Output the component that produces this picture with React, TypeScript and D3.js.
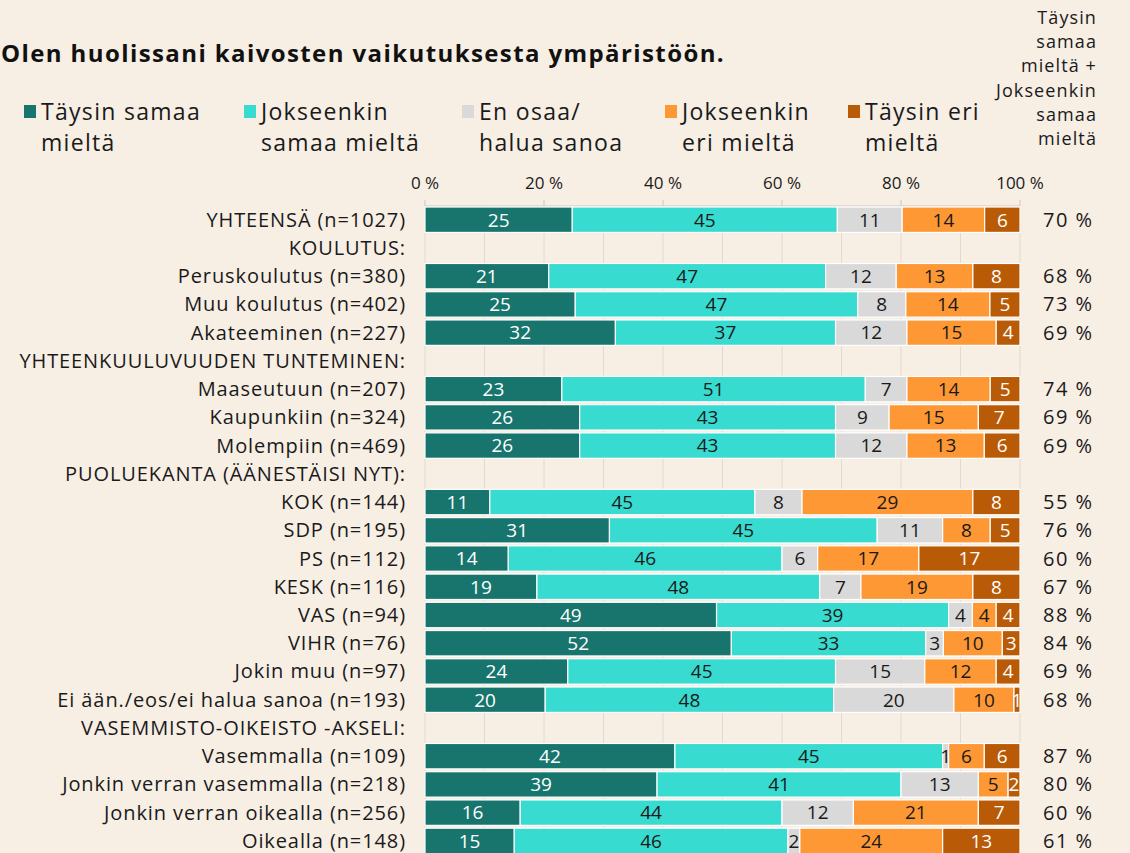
import React from 'react';
import * as d3 from 'd3';

// Kysymys: Olen huolissani kaivosten vaikutuksesta ympäristöön.
const labels = [
  'YHTEENSÄ (n=1027)',
  'KOULUTUS:',
  'Peruskoulutus (n=380)',
  'Muu koulutus (n=402)',
  'Akateeminen (n=227)',
  'YHTEENKUULUVUUDEN TUNTEMINEN:',
  'Maaseutuun (n=207)',
  'Kaupunkiin (n=324)',
  'Molempiin (n=469)',
  'PUOLUEKANTA (ÄÄNESTÄISI NYT):',
  'KOK (n=144)',
  'SDP (n=195)',
  'PS (n=112)',
  'KESK (n=116)',
  'VAS (n=94)',
  'VIHR (n=76)',
  'Jokin muu (n=97)',
  'Ei ään./eos/ei halua sanoa (n=193)',
  'VASEMMISTO-OIKEISTO -AKSELI:',
  'Vasemmalla (n=109)',
  'Jonkin verran vasemmalla (n=218)',
  'Jonkin verran oikealla (n=256)',
  'Oikealla (n=148)',
];

// null = otsikkorivi ilman palkkia
const taysinSamaa = [25, null, 21, 25, 32, null, 23, 26, 26, null, 11, 31, 14, 19, 49, 52, 24, 20, null, 42, 39, 16, 15];
const jokseenkinSamaa = [45, null, 47, 47, 37, null, 51, 43, 43, null, 45, 45, 46, 48, 39, 33, 45, 48, null, 45, 41, 44, 46];
const enOsaa = [11, null, 12, 8, 12, null, 7, 9, 12, null, 8, 11, 6, 7, 4, 3, 15, 20, null, 1, 13, 12, 2];
const jokseenkinEri = [14, null, 13, 14, 15, null, 14, 15, 13, null, 29, 8, 17, 19, 4, 10, 12, 10, null, 6, 5, 21, 24];
const taysinEri = [6, null, 8, 5, 4, null, 5, 7, 6, null, 8, 5, 17, 8, 4, 3, 4, 1, null, 6, 2, 7, 13];
const samaaYhteensa = [70, null, 68, 73, 69, null, 74, 69, 69, null, 55, 76, 60, 67, 88, 84, 69, 68, null, 87, 80, 60, 61];

const seriesKeys = ['ts', 'js', 'eo', 'je', 'te'];
const seriesNames = [
  ['Täysin samaa', 'mieltä'],
  ['Jokseenkin', 'samaa mieltä'],
  ['En osaa/', 'halua sanoa'],
  ['Jokseenkin', 'eri mieltä'],
  ['Täysin eri', 'mieltä'],
];
const colors = ['#17756e', '#38dbd0', '#d9d9d9', '#fd9834', '#b95b06'];
const textColors = ['#ffffff', '#1a1a1a', '#1a1a1a', '#1a1a1a', '#ffffff'];
const ticks = [0, 20, 40, 60, 80, 100];
const gridTicks = [0, 10, 20, 30, 40, 50, 60, 70, 80, 90, 100];
const sideHeader = ['Täysin', 'samaa', 'mieltä +', 'Jokseenkin', 'samaa', 'mieltä'];

const W = 1130;
const H = 853;
const FONT = "'Open Sans', 'DejaVu Sans', sans-serif";
const legendX = [24, 244, 462, 665, 848];

const App = () => {
  const rows = labels.map((label, i) => ({
    i,
    label,
    ts: taysinSamaa[i],
    js: jokseenkinSamaa[i],
    eo: enOsaa[i],
    je: jokseenkinEri[i],
    te: taysinEri[i],
    total: samaaYhteensa[i],
  }));
  const dataRows = rows.filter(r => r.ts !== null);

  const x = d3.scaleLinear().domain([0, 1]).range([425, 1020]);
  const xPct = d3.scaleLinear().domain([0, 100]).range([425, 1020]);
  const y = d3.scaleBand<number>()
    .domain(d3.range(labels.length))
    .range([205.6, 855])
    .paddingInner(0.1)
    .paddingOuter(0.05);

  const stacked = d3.stack<any>()
    .keys(seriesKeys)
    .offset(d3.stackOffsetExpand)(dataRows);

  return (
    <div style={{ position: 'fixed', left: 0, top: 0 }}>
      <svg width={W} height={H} style={{ display: 'block', fontFamily: FONT }}>
        <rect width={W} height={H} fill="#f7eee4" />

        <text x={1} y={62} fontSize={24} fontWeight={700} letterSpacing={1.4} fill="#111">
          Olen huolissani kaivosten vaikutuksesta ympäristöön.
        </text>

        {/* selite */}
        {seriesNames.map((lines, k) => (
          <g key={k} transform={`translate(${legendX[k]},0)`}>
            <rect x={0} y={105} width={12} height={13} fill={colors[k]} />
            {lines.map((ln, j) => (
              <text key={j} x={17} y={120 + j * 31} fontSize={23} letterSpacing={1.3} fill="#1a1a1a">
                {ln}
              </text>
            ))}
          </g>
        ))}

        {sideHeader.map((ln, j) => (
          <text key={j} x={1097} y={24 + j * 24.2} fontSize={18} letterSpacing={1.1} textAnchor="end" fill="#1a1a1a">
            {ln}
          </text>
        ))}

        {/* akseli */}
        {ticks.map(t => (
          <text key={t} x={xPct(t)} y={189} fontSize={17} textAnchor="middle" fill="#1a1a1a">
            {`${t} %`}
          </text>
        ))}
        <line x1={xPct(0)} x2={xPct(100)} y1={206} y2={206} stroke="#cfc8c0" />
        {ticks.map(t => (
          <line key={t} x1={xPct(t)} x2={xPct(t)} y1={200} y2={206} stroke="#cfc8c0" />
        ))}
        {gridTicks.map(t => (
          <line key={t} x1={xPct(t)} x2={xPct(t)} y1={206} y2={H} stroke="#e2dad1" />
        ))}

        {/* rivien nimet */}
        {rows.map(r => (
          <text
            key={r.i}
            x={406}
            y={(y(r.i) ?? 0) + y.bandwidth() / 2}
            dy="0.35em"
            fontSize={20}
            letterSpacing={0.9}
            textAnchor="end"
            fill="#1a1a1a"
          >
            {r.label}
          </text>
        ))}

        {/* palkit */}
        {stacked.map((s, k) => (
          <g key={s.key}>
            {s.map(d => {
              const r = d.data;
              const x0 = x(d[0]);
              const x1 = x(d[1]);
              const yy = y(r.i) ?? 0;
              return (
                <g key={r.i}>
                  <rect
                    x={x0}
                    y={yy}
                    width={Math.max(0, x1 - x0)}
                    height={y.bandwidth()}
                    fill={colors[k]}
                    stroke="#ffffff"
                    strokeWidth={1.2}
                  />
                  <text
                    x={(x0 + x1) / 2}
                    y={yy + y.bandwidth() / 2}
                    dy="0.36em"
                    fontSize={19}
                    textAnchor="middle"
                    fill={textColors[k]}
                  >
                    {r[s.key]}
                  </text>
                </g>
              );
            })}
          </g>
        ))}

        {/* samaa mieltä yhteensä */}
        {dataRows.map(r => (
          <text
            key={r.i}
            x={1043}
            y={(y(r.i) ?? 0) + y.bandwidth() / 2}
            dy="0.35em"
            fontSize={20}
            letterSpacing={1.5}
            fill="#1a1a1a"
          >
            {`${r.total} %`}
          </text>
        ))}
      </svg>
    </div>
  );
};

export default App;
